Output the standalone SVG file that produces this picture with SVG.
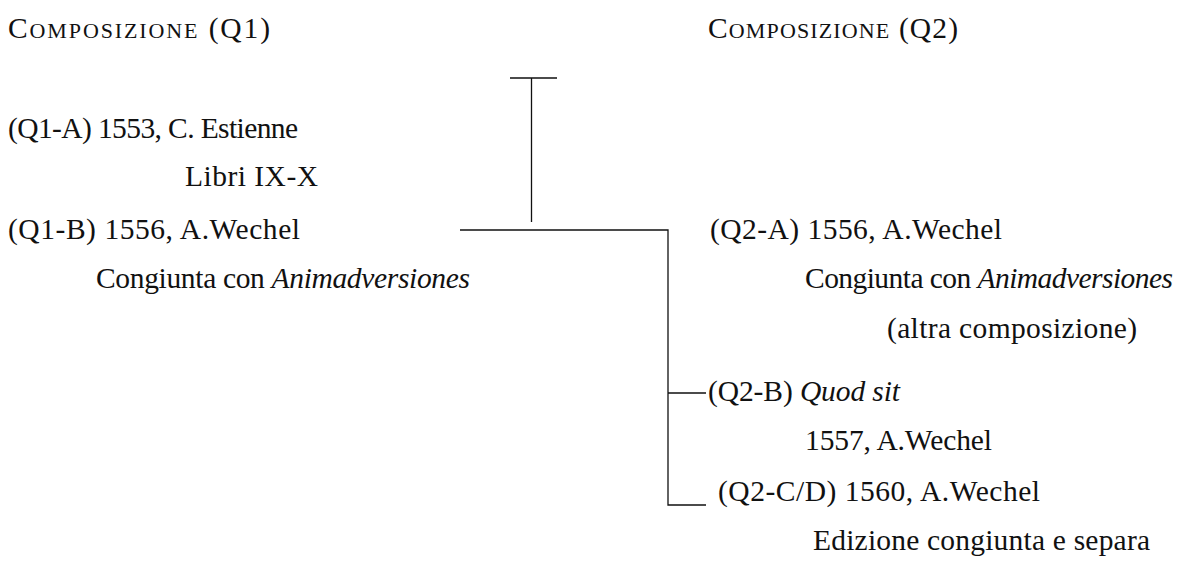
<svg xmlns="http://www.w3.org/2000/svg" width="1182" height="564" viewBox="0 0 1182 564">
<style>
text{font-family:"Liberation Serif","Times New Roman",serif;font-size:29.5px;fill:#111}
.sc{font-size:22px}
.it{font-style:italic}
.ln{stroke:#111;stroke-width:1.3;fill:none}
</style>
<rect width="1182" height="564" fill="#fff"/>
<g id="connectors">
<path class="ln" d="M510,78 H557 M531.5,78 V222"/>
<path class="ln" d="M460,230 H668 V505 H706 M668,393 H706"/>
</g>
<g id="q1">
<text x="8" y="38" textLength="262">C<tspan class="sc">OMPOSIZIONE</tspan> (Q1)</text>
</g>
<g id="q1a">
<text x="8" y="138" textLength="290">(Q1-A) 1553, C. Estienne</text>
<text x="185" y="186" textLength="133">Libri IX-X</text>
</g>
<g id="q1b">
<text x="8" y="239" textLength="292">(Q1-B) 1556, A.Wechel</text>
<text x="96" y="288" textLength="374">Congiunta con <tspan class="it">Animadversiones</tspan></text>
</g>
<g id="q2">
<text x="708" y="38" textLength="250">C<tspan class="sc">OMPOSIZIONE</tspan> (Q2)</text>
</g>
<g id="q2a">
<text x="710" y="239" textLength="292">(Q2-A) 1556, A.Wechel</text>
<text x="805" y="288" textLength="368">Congiunta con <tspan class="it">Animadversiones</tspan></text>
<text x="887" y="338" textLength="250">(altra composizione)</text>
</g>
<g id="q2b">
<text x="708" y="401" textLength="192">(Q2-B) <tspan class="it">Quod sit</tspan></text>
<text x="805" y="450" textLength="187">1557, A.Wechel</text>
</g>
<g id="q2cd">
<text x="718" y="501" textLength="322">(Q2-C/D) 1560, A.Wechel</text>
<text x="813" y="550" textLength="337">Edizione congiunta e separa</text>
</g>
</svg>
